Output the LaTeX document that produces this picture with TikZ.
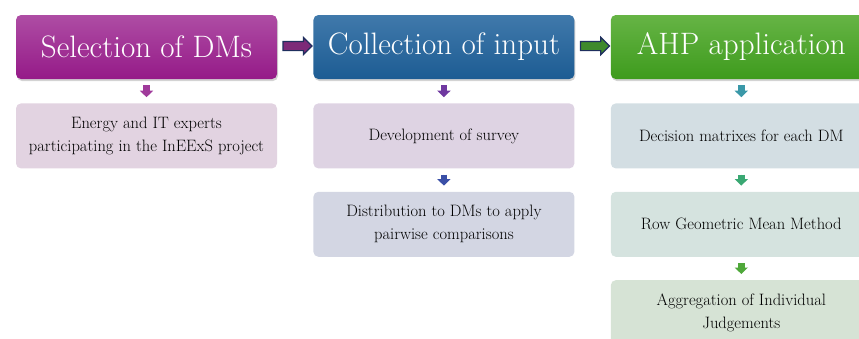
\documentclass[tikz,border=0pt]{standalone}
\usepackage{tikz}
\usetikzlibrary{arrows.meta, shapes.arrows, positioning, calc, shadows}
\definecolor{selTop}{HTML}{AE4DA4}
\definecolor{selBot}{HTML}{951A88}
\definecolor{colTop}{HTML}{4079AB}
\definecolor{colBot}{HTML}{1D5C93}
\definecolor{ahpTop}{HTML}{66B445}
\definecolor{ahpBot}{HTML}{3E9B1D}
\definecolor{outlineBlue}{HTML}{1F2F5E}
\definecolor{linkPurple}{HTML}{7D2A78}
\definecolor{linkGreen}{HTML}{3F8A2C}
\tikzset{
  header/.style={
    rectangle, rounded corners=5pt, minimum width=261pt, minimum height=64pt,
    align=center, text=white, font=\fontsize{31}{34}\selectfont,
    drop shadow={opacity=0.35, shadow xshift=1pt, shadow yshift=-2pt}
  },
  infobox/.style={
    rectangle, rounded corners=5pt, minimum width=261pt, minimum height=65pt,
    align=center, text=black, font=\fontsize{16.5}{23}\selectfont
  },
  linkarrow/.style={
    single arrow, draw=outlineBlue, line width=1.2pt, minimum height=29pt,
    single arrow head extend=4pt, inner sep=4pt
  },
  steparrow/.style={
    line width=6.5pt, shorten <=6pt, shorten >=6pt,
    -{Triangle[width=13pt,length=6.5pt]}
  }
}

\begin{document}
\begin{tikzpicture}[x=1pt, y=1pt]
    \useasboundingbox (0,0) rectangle (859,-338);
    \clip (0,0) rectangle (859,-338);
    % headers
    \node[header, top color=selTop, bottom color=selBot] (hSel) at (146.5,-47) {Selection of DMs};
    \node[header, top color=colTop, bottom color=colBot, right=36pt of hSel] (hCol) {Collection of input};
    \node[header, top color=ahpTop, bottom color=ahpBot, right=36pt of hCol] (hAhp) {AHP application};
    % links between headers
    \node[linkarrow, fill=linkPurple] (lA) at ($(hSel.east)!0.5!(hCol.west)+(0,1)$) {};
    \node[linkarrow, fill=linkGreen] (lB) at ($(hCol.east)!0.5!(hAhp.west)+(0,1)$) {};
    % column boxes
    \node[infobox, fill={rgb,255:red,226;green,211;blue,225}, below=24pt of hSel] (bSel) {Energy and IT experts\\participating in the InEExS project};
    \node[infobox, fill={rgb,255:red,222;green,211;blue,227}, below=24pt of hCol] (bSurv) {Development of survey};
    \node[infobox, fill={rgb,255:red,211;green,214;blue,227}, below=23pt of bSurv] (bDist) {Distribution to DMs to apply\\pairwise comparisons};
    \node[infobox, fill={rgb,255:red,211;green,222;blue,227}, below=24pt of hAhp] (bMat) {Decision matrixes for each DM};
    \node[infobox, fill={rgb,255:red,213;green,227;blue,223}, below=23pt of bMat] (bRow) {Row Geometric Mean Method};
    \node[infobox, fill={rgb,255:red,214;green,227;blue,213}, below=23pt of bRow] (bAgg) {Aggregation of Individual\\Judgements};
    % small step arrows
    \draw[steparrow, draw={rgb,255:red,160;green,58;blue,155}, fill={rgb,255:red,160;green,58;blue,155}] (hSel) -- (bSel);
    \draw[steparrow, draw={rgb,255:red,111;green,56;blue,160}, fill={rgb,255:red,111;green,56;blue,160}] (hCol) -- (bSurv);
    \draw[steparrow, draw={rgb,255:red,58;green,79;blue,167}, fill={rgb,255:red,58;green,79;blue,167}] (bSurv) -- (bDist);
    \draw[steparrow, draw={rgb,255:red,58;green,152;blue,168}, fill={rgb,255:red,58;green,152;blue,168}] (hAhp) -- (bMat);
    \draw[steparrow, draw={rgb,255:red,58;green,168;blue,115}, fill={rgb,255:red,58;green,168;blue,115}] (bMat) -- (bRow);
    \draw[steparrow, draw={rgb,255:red,79;green,168;blue,58}, fill={rgb,255:red,79;green,168;blue,58}] (bRow) -- (bAgg);
\end{tikzpicture}
\end{document}
